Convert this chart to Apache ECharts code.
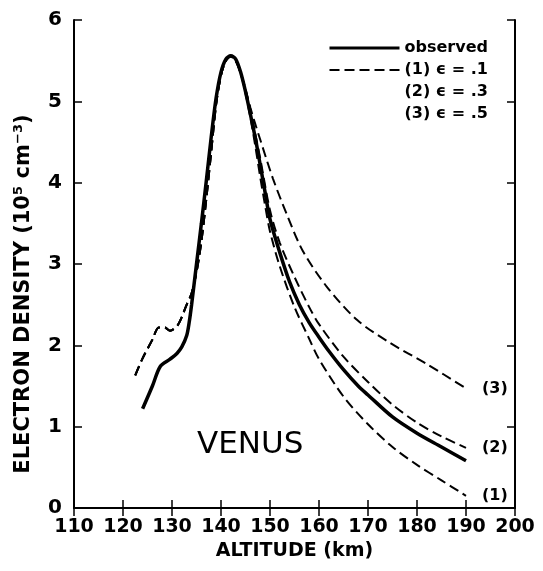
<!DOCTYPE html>
<html>
<head>
<meta charset="utf-8">
<script src="https://cdn.jsdelivr.net/npm/echarts@6/dist/echarts.min.js"></script>
<style>html,body{margin:0;padding:0;background:#fff;}#c{width:543px;height:571px;}</style>
</head>
<body>
<div id="c"></div>
<script>
// ---- data (altitude km, electron density 1e5 cm^-3) ----
const observed = [
  [124,1.22],[126,1.5],[127.6,1.74],[129.6,1.83],[131,1.9],[132,1.98],[133,2.12],[133.5,2.28],
  [134,2.5],[135,3.0],[136,3.5],[137,4.02],[138,4.56],[139,5.04],[140,5.36],[141,5.52],
  [142,5.56],[143,5.52],[144,5.36],[145,5.12],[146,4.84],[147,4.55],[148,4.22],[149,3.88],
  [150,3.55],[152,3.14],[154,2.78],[156,2.5],[158,2.28],[160,2.1],[162,1.93],[165,1.7],
  [168,1.5],[170,1.39],[175,1.12],[180,0.92],[185,0.75],[190,0.58]
];
// common lower part shared by all three model curves
const modelRise = [
  [122.5,1.63],[124,1.84],[126,2.07],[127.3,2.22],[128.5,2.22],[129.6,2.18],[131.2,2.25],
  [133,2.5],[134,2.64],[135,2.9],[136,3.28],[137,3.8],[138,4.38],[139,4.96],[140,5.32],
  [141,5.5],[142,5.55],[143,5.5],[144,5.35]
];
const model1Tail = [
  [145,5.1],[146,4.8],[147,4.45],[148,4.07],[149,3.72],[150,3.4],[152,2.97],[155,2.47],
  [158,2.08],[160,1.83],[165,1.37],[170,1.03],[175,0.75],[180,0.53],[185,0.34],[190,0.15]
];
const model2Tail = [
  [145,5.15],[146,4.9],[147,4.6],[148,4.3],[150,3.66],[152,3.26],[155,2.84],[158,2.47],
  [160,2.26],[165,1.86],[170,1.55],[175,1.27],[180,1.05],[185,0.88],[190,0.74]
];
const model3Tail = [
  [145,5.14],[146,4.92],[147,4.72],[148,4.53],[150.6,4.05],[153.5,3.6],[156.7,3.16],
  [161.6,2.72],[167.8,2.31],[174.5,2.03],[182,1.77],[190,1.47]
];
const seriesNames = ['observed', '(1) \u03F5 = .1', '(2) \u03F5 = .3', '(3) \u03F5 = .5'];
const endTags = ['(1)', '(2)', '(3)'];
const xMin = 110, xMax = 200, xStep = 10;
const yMin = 0, yMax = 6, yStep = 1;

const FONT = 'DejaVu Sans';
const chart = echarts.init(document.getElementById('c'));

function modelSeries(i, tail) {
  return {
    name: seriesNames[i + 1], type: 'line', smooth: 0.3, symbol: 'none',
    data: modelRise.concat(tail),
    itemStyle: { color: '#000' },
    lineStyle: { color: '#000', width: 2, type: [10, 5] },
    endLabel: {
      show: true, formatter: endTags[i], distance: 16, color: '#000',
      fontSize: 16, fontWeight: 'bold', fontFamily: FONT
    },
    z: 2
  };
}

const axisLineStyle = { color: '#000', width: 2 };
const tickStyle = { show: true, inside: true, length: 8, lineStyle: { color: '#000', width: 1.5 } };
const hideSym = { opacity: 0 };

chart.setOption({
  animation: false,
  backgroundColor: '#fff',
  title: {
    text: 'VENUS', left: 197, top: 429, padding: 0,
    textStyle: { fontSize: 31, fontWeight: 'normal', fontFamily: FONT, color: '#000' }
  },
  legend: {
    orient: 'vertical', left: 323, top: 35, itemWidth: 70, itemHeight: 12, itemGap: 6,
    textStyle: { fontSize: 16, fontWeight: 'bold', fontFamily: FONT, color: '#000' },
    data: [
      { name: seriesNames[0], itemStyle: hideSym, lineStyle: { width: 3 } },
      { name: seriesNames[1], itemStyle: hideSym },
      { name: seriesNames[2], lineStyle: { opacity: 0 }, itemStyle: hideSym },
      { name: seriesNames[3], lineStyle: { opacity: 0 }, itemStyle: hideSym }
    ]
  },
  grid: { left: 74, right: 28, top: 20, bottom: 63 },
  xAxis: [{
    type: 'value', min: xMin, max: xMax, interval: xStep,
    axisLine: { lineStyle: axisLineStyle }, axisTick: tickStyle, splitLine: { show: false },
    axisLabel: { fontSize: 19, fontWeight: 'bold', fontFamily: FONT, color: '#000', margin: 10 },
    name: 'ALTITUDE (km)', nameLocation: 'middle', nameGap: 34,
    nameTextStyle: { fontSize: 19, fontWeight: 'bold', fontFamily: FONT, color: '#000' }
  }, {
    type: 'value', position: 'top', min: xMin, max: xMax, interval: xStep,
    axisLine: { show: true, lineStyle: axisLineStyle }, axisTick: tickStyle,
    axisLabel: { show: false }, splitLine: { show: false }
  }],
  yAxis: [{
    type: 'value', min: yMin, max: yMax, interval: yStep,
    axisLine: { show: true, lineStyle: axisLineStyle }, axisTick: tickStyle, splitLine: { show: false },
    axisLabel: { fontSize: 20, fontWeight: 'bold', fontFamily: FONT, color: '#000', margin: 12 },
    name: 'ELECTRON DENSITY (10\u2075 cm\u207B\u00B3)', nameLocation: 'middle', nameGap: 40,
    nameTextStyle: { fontSize: 21, fontWeight: 'bold', fontFamily: FONT, color: '#000', padding: [0, 60, 0, 0] }
  }, {
    type: 'value', position: 'right', min: yMin, max: yMax, interval: yStep,
    axisLine: { show: true, lineStyle: axisLineStyle }, axisTick: tickStyle,
    axisLabel: { show: false }, splitLine: { show: false }
  }],
  series: [
    {
      name: seriesNames[0], type: 'line', smooth: 0.3, symbol: 'none', data: observed,
      itemStyle: { color: '#000' },
      lineStyle: { color: '#000', width: 3.5, type: 'solid' }, z: 3
    },
    modelSeries(0, model1Tail),
    modelSeries(1, model2Tail),
    modelSeries(2, model3Tail)
  ]
});
</script>
</body>
</html>
